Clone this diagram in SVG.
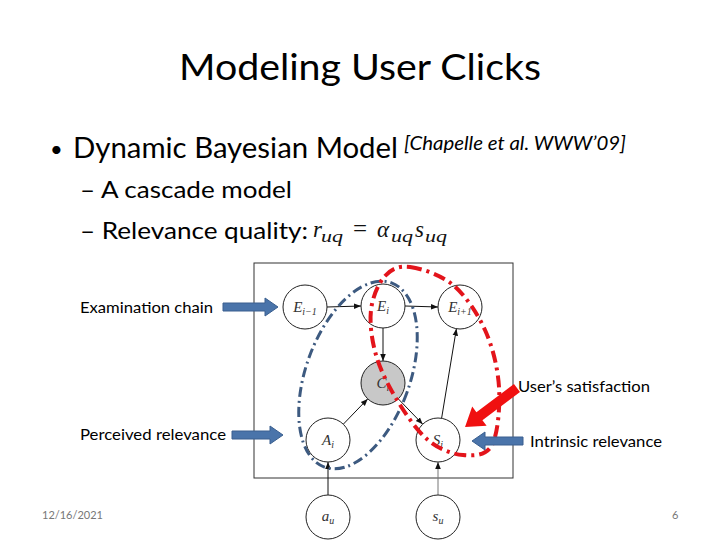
<svg xmlns="http://www.w3.org/2000/svg" width="720" height="540" viewBox="0 0 720 540">
<defs>
<style>
.t{font-family:Lato,"Liberation Sans",sans-serif;fill:#000}
.m{font-family:"Liberation Serif","DejaVu Serif",serif;font-style:italic;fill:#333}
.node{fill:#fff;stroke:#222;stroke-width:1}
.edge{stroke:#111;stroke-width:1;fill:none;marker-end:url(#ah)}
.barrow{fill:#4a74aa;stroke:#3a5f8f;stroke-width:1}
</style>
<marker id="ah" viewBox="0 0 10 10" refX="10" refY="5" markerWidth="7" markerHeight="7" orient="auto" markerUnits="userSpaceOnUse">
<path d="M0,1 L10,5 L0,9 Z" fill="#111"/>
</marker>
</defs>
<rect width="720" height="540" fill="#fff"/>

<text class="t" x="360" y="80" font-size="36" text-anchor="middle" textLength="362" lengthAdjust="spacingAndGlyphs">Modeling User Clicks</text>

<text class="t" x="50" y="157" font-size="22">•</text>
<text class="t" x="73" y="158" font-size="28" textLength="325" lengthAdjust="spacingAndGlyphs">Dynamic Bayesian Model</text>
<text class="t" x="404" y="150" font-size="19" font-style="italic" textLength="222" lengthAdjust="spacingAndGlyphs">[Chapelle et al. WWW’09]</text>
<text class="t" x="80" y="198" font-size="23" textLength="212" lengthAdjust="spacingAndGlyphs">– A cascade model</text>
<text class="t" x="80" y="239" font-size="23" textLength="228" lengthAdjust="spacingAndGlyphs">– Relevance quality:</text>
<text class="m" y="237" font-size="23" style="fill:#111"><tspan x="313">r</tspan><tspan x="321" y="242" font-size="16" textLength="22" lengthAdjust="spacingAndGlyphs">uq</tspan><tspan x="353" y="237" font-style="normal" font-size="25">=</tspan><tspan x="377">α</tspan><tspan x="391" y="242" font-size="16" textLength="22" lengthAdjust="spacingAndGlyphs">uq</tspan><tspan x="415" y="237">s</tspan><tspan x="425" y="242" font-size="16" textLength="22" lengthAdjust="spacingAndGlyphs">uq</tspan></text>

<rect x="254" y="263" width="259" height="215" fill="none" stroke="#333" stroke-width="1"/>

<g id="connectors">
<line class="edge" x1="327" y1="307" x2="361" y2="306"/>
<line class="edge" x1="405" y1="306" x2="438" y2="307"/>
<line class="edge" x1="383" y1="328" x2="383" y2="361"/>
<line class="edge" x1="343.3" y1="424.2" x2="367.7" y2="398.9"/>
<line class="edge" x1="398.3" y1="398.9" x2="422.7" y2="424.2"/>
<line class="edge" x1="441.6" y1="418.3" x2="456.4" y2="328.7"/>
<line class="edge" x1="328" y1="495" x2="328" y2="462"/>
<line class="edge" x1="438" y1="495" x2="438" y2="462" style="stroke:#777"/>
</g>

<g id="n-Eim1"><circle class="node" cx="305" cy="307" r="22"/><text class="m" x="305" y="312" font-size="15" text-anchor="middle">E<tspan font-size="10" dy="3">i−1</tspan></text></g>
<g id="n-Ei"><circle class="node" cx="383" cy="306" r="22"/><text class="m" x="383" y="311" font-size="15" text-anchor="middle">E<tspan font-size="10" dy="3">i</tspan></text></g>
<g id="n-Eip1"><circle class="node" cx="460" cy="307" r="22"/><text class="m" x="460" y="312" font-size="15" text-anchor="middle">E<tspan font-size="10" dy="3">i+1</tspan></text></g>
<g id="n-Ci"><circle class="node" cx="383" cy="383" r="22" style="fill:#c8c8c8"/><text class="m" x="383" y="388" font-size="15" text-anchor="middle">C<tspan font-size="10" dy="3">i</tspan></text></g>
<g id="n-Ai"><circle class="node" cx="328" cy="440" r="22"/><text class="m" x="328" y="445" font-size="15" text-anchor="middle">A<tspan font-size="10" dy="3">i</tspan></text></g>
<g id="n-Si"><circle class="node" cx="438" cy="440" r="22"/><text class="m" x="438" y="445" font-size="15" text-anchor="middle">S<tspan font-size="10" dy="3">i</tspan></text></g>
<g id="n-au"><circle class="node" cx="328" cy="517" r="22"/><text class="m" x="328" y="521" font-size="15" text-anchor="middle">a<tspan font-size="10" dy="3">u</tspan></text></g>
<g id="n-su"><circle class="node" cx="438" cy="517" r="22"/><text class="m" x="438" y="521" font-size="15" text-anchor="middle">s<tspan font-size="10" dy="3">u</tspan></text></g>

<ellipse cx="358" cy="375" rx="52" ry="98" transform="rotate(20 358 375)" fill="none" stroke="#3d5a80" stroke-width="3" stroke-dasharray="10 4 2 4"/>
<path d="M410,267 C421.3,268.5 440.5,274.5 453,285 C465.5,295.5 477.3,313 485,330 C492.7,347 497.8,367.8 499,387 C500.2,406.2 498,433.7 492,445 C486,456.3 473.7,455.8 463,455 C452.3,454.2 439,449.2 428,440 C417,430.8 405.7,414.2 397,400 C388.3,385.8 380.3,370 376,355 C371.7,340 369.5,323.2 371,310 C372.5,296.8 378.5,283.2 385,276 C391.5,268.8 398.7,265.5 410,267 Z" fill="none" stroke="#e3141b" stroke-width="4" stroke-dasharray="12 5 3 5"/>

<g id="label-exam">
<text class="t" x="80" y="313" font-size="15" textLength="133" lengthAdjust="spacingAndGlyphs">Examination chain</text>
<polygon class="barrow" points="223,303 265,303 265,298 278,307 265,316 265,311 223,311"/>
</g>
<g id="label-perc">
<text class="t" x="80" y="440" font-size="15" textLength="146" lengthAdjust="spacingAndGlyphs">Perceived relevance</text>
<polygon class="barrow" points="232,431 270,431 270,426 283,435 270,444 270,439 232,439"/>
</g>
<g id="label-intr">
<text class="t" x="530" y="447" font-size="15" textLength="132" lengthAdjust="spacingAndGlyphs">Intrinsic relevance</text>
<polygon class="barrow" points="523,437 485,437 485,432 472,441 485,450 485,445 523,445"/>
</g>
<g id="label-sat">
<text class="t" x="518" y="392" font-size="15" textLength="132" lengthAdjust="spacingAndGlyphs">User’s satisfaction</text>
<polygon points="0,-5 47,-5 47,-12 65,0 47,12 47,5 0,5" fill="#f01010" transform="translate(517 388) rotate(143.1)"/>
</g>

<text class="t" x="42" y="519" font-size="11" style="fill:#777">12/16/2021</text>
<text class="t" x="672" y="519" font-size="11" style="fill:#777">6</text>
</svg>
